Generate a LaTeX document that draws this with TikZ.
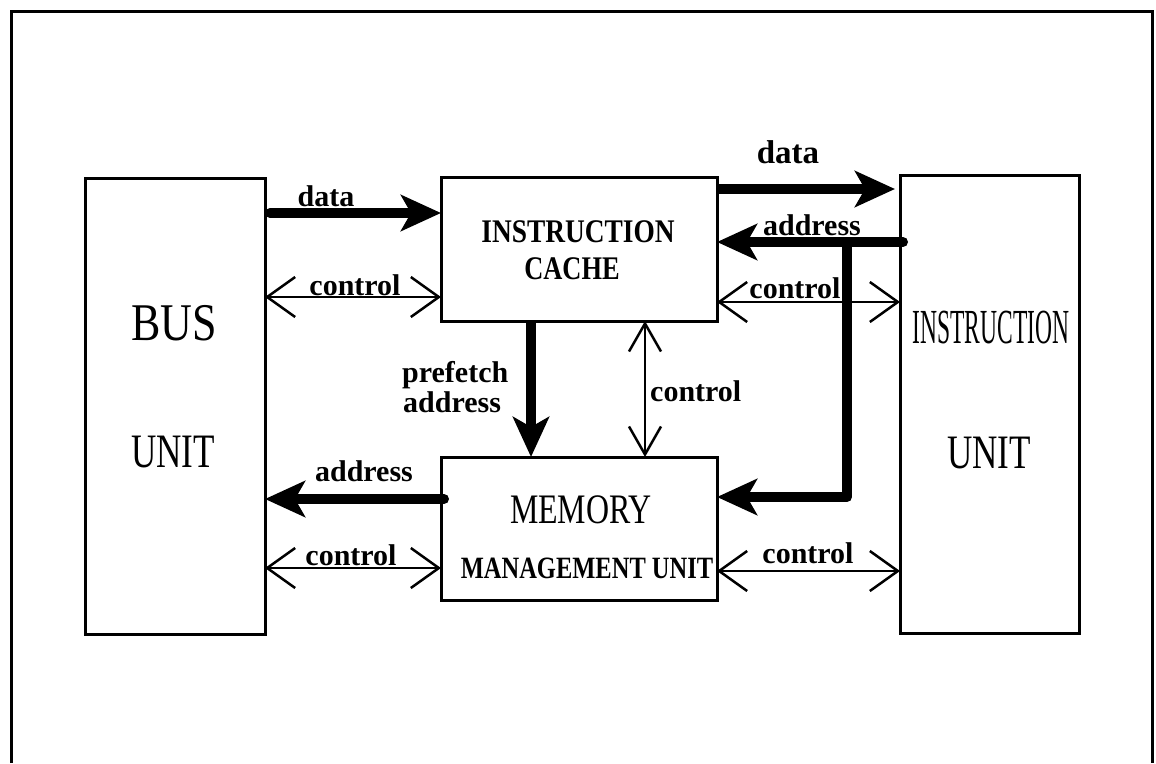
\documentclass[tikz,border=0pt]{standalone}
\usepackage{fontspec}
\setmainfont{Liberation Serif}
\usetikzlibrary{arrows.meta,calc}
\begin{document}
\begin{tikzpicture}[x=1pt,y=-1pt,
  box/.style={draw, line width=3pt, inner sep=0pt, outer sep=0pt},
  fat/.style={line width=10pt, line cap=round, line join=round,
    -{Stealth[length=40pt,width=36pt,inset=10pt]}},
  dbl/.style={line width=2.5pt,
    {Straight Barb[length=28pt,width=40pt]}-{Straight Barb[length=28pt,width=40pt]}},
  dblv/.style={line width=2.5pt,
    {Straight Barb[length=28pt,width=32pt]}-{Straight Barb[length=28pt,width=32pt]}},
  lbl/.style={inner sep=0pt, font=\fontsize{30}{30}\selectfont\bfseries},
  title/.style={inner sep=0pt}
]
\useasboundingbox (0,0) rectangle (1156,763);
% outer frame (open at the bottom)
\draw[line width=3pt] (11,763) -- (11,11) -- (1152,11) -- (1152,763);

% boxes
\node[box, minimum width=180pt, minimum height=456pt] (bus) at (175,406) {};
\node[box, minimum width=276pt, minimum height=144pt] (ic)  at (579,249) {};
\node[box, minimum width=179pt, minimum height=458pt] (iu)  at (989.5,404) {};
\node[box, minimum width=276pt, minimum height=143pt] (mmu) at (579,528.5) {};

% box titles
\node[title, anchor=base] (tbus) at (174,340) {\scalebox{0.83}[1]{\fontsize{53}{53}\selectfont BUS}};
\node[title, anchor=base] (tbusu) at (173,467) {\scalebox{0.73}[1]{\fontsize{48}{48}\selectfont UNIT}};
\node[title, anchor=base] (tiu) at (991,343) {\scalebox{0.48}[1]{\fontsize{49}{49}\selectfont INSTRUCTION}};
\node[title, anchor=base] (tiuu) at (989,468) {\scalebox{0.73}[1]{\fontsize{48}{48}\selectfont UNIT}};
\node[title, anchor=base] (tic) at (578,242) {\scalebox{0.83}[1]{\fontsize{33}{33}\selectfont\bfseries INSTRUCTION}};
\node[title, anchor=base] (tic2) at (572,279) {\scalebox{0.80}[1]{\fontsize{33}{33}\selectfont\bfseries CACHE}};
\node[title, anchor=base] (tmm) at (581,523) {\scalebox{0.76}[1]{\fontsize{42}{42}\selectfont MEMORY}};
\node[title, anchor=base] (tmm2) at (587,578) {\scalebox{0.79}[1]{\fontsize{31}{31}\selectfont\bfseries MANAGEMENT UNIT}};

% thick connectors
\draw[fat] ($(bus.east |- 0,213)+(5,0)$) -- (ic.west |- 0,213);
\draw[fat, line cap=butt] (ic.east |- 0,189) -- ($(iu.west |- 0,189)+(-5,0)$);
\coordinate (br) at (847,242);
\coordinate (bc) at (847,497);
\draw[fat] ($(iu.west |- 0,242)+(3,0)$) -- (ic.east |- 0,242);
\draw[fat] (br) -- (bc) -- (mmu.east |- bc);
\draw[fat, line cap=butt] (ic.south -| 531,0) -- (mmu.north -| 531,0);
\draw[fat] ($(mmu.west |- 0,499)+(3,0)$) -- (bus.east |- 0,499);

% control connectors
\draw[dbl] (bus.east |- 0,297) -- (ic.west |- 0,297);
\draw[dbl] (ic.east |- 0,302) -- (iu.west |- 0,302);
\draw[dblv] (ic.south -| 645,0) -- (mmu.north -| 645,0);
\draw[dbl] (bus.east |- 0,568) -- (mmu.west |- 0,568);
\draw[dbl] (mmu.east |- 0,571) -- (iu.west |- 0,571);

% labels
\node[lbl, anchor=base] (ldata1) at (326,206) {data};
\node[lbl, anchor=base] (lctl1) at (355,295) {control};
\node[lbl, anchor=base, font=\fontsize{33}{33}\selectfont\bfseries] (ldata2) at (788,163) {data};
\node[lbl, anchor=base] (laddr1) at (812,235) {address};
\node[lbl, anchor=base] (lctl2) at (795,298) {control};
\node[lbl, anchor=base west] (lpre) at (402,382) {prefetch};
\node[lbl, anchor=base west] (lpre2) at (403,412) {address};
\node[lbl, anchor=base west] (lctl3) at (650,401) {control};
\node[lbl, anchor=base] (laddr3) at (364,481) {address};
\node[lbl, anchor=base] (lctl4) at (351,565) {control};
\node[lbl, anchor=base] (lctl5) at (808,563) {control};
\end{tikzpicture}
\end{document}
